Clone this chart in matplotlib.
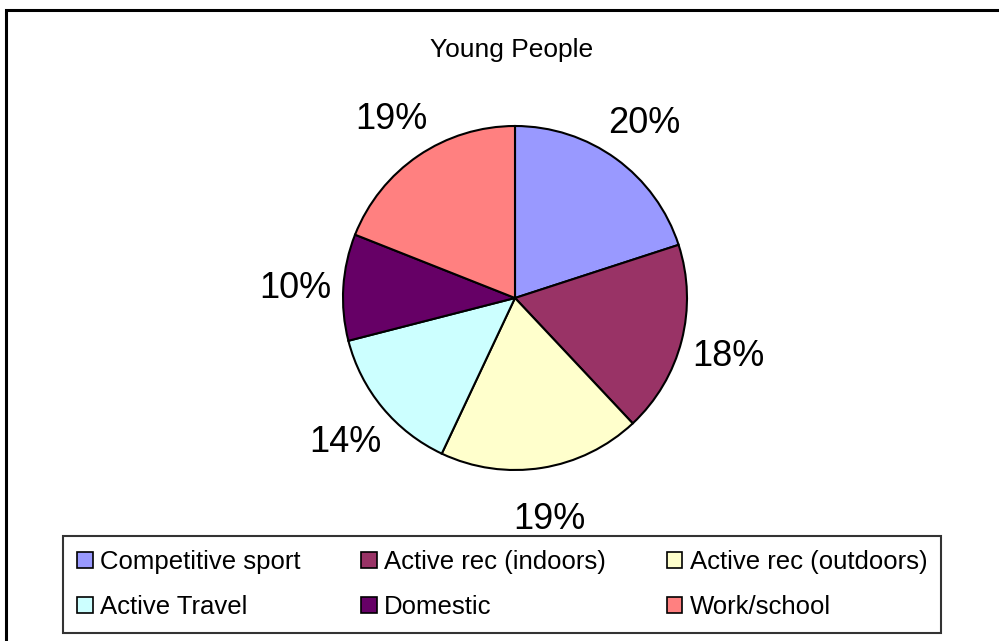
import matplotlib

matplotlib.use('Agg')
import matplotlib.pyplot as plt
from matplotlib.patches import Patch, Rectangle

plt.rcParams['font.family'] = ['Liberation Sans', 'DejaVu Sans']

title = "Young People"
categories = ["Competitive sport", "Active rec (indoors)", "Active rec (outdoors)",
              "Active Travel", "Domestic", "Work/school"]
shares = [20, 18, 19, 14, 10, 19]
colors = ["#9999FF", "#993366", "#FFFFCC", "#CCFFFF", "#660066", "#FF8080"]

W, H = 999, 641
fig = plt.figure(figsize=(W / 100, H / 100), dpi=100)

# outer chart border (right and bottom edges run off the image)
fig.patches.append(Rectangle((6 / W, -0.05), 1.1, 1 - 10 / H + 0.05,
                             transform=fig.transFigure, fill=False,
                             edgecolor='black', linewidth=2.2))

cx, cy, r = 515, 298, 172
ax = fig.add_axes([(cx - r) / W, (H - cy - r) / H, 2 * r / W, 2 * r / H])
wedges, texts, pcts = ax.pie(
    shares,
    colors=colors,
    startangle=90,
    counterclock=False,
    autopct='%1.0f%%',
    pctdistance=1.28,
    wedgeprops=dict(edgecolor='black', linewidth=1.5),
    textprops=dict(fontsize=26, color='black'),
)
for t in pcts:
    t.set_va('center_baseline')
ax.set_xlim(-1, 1)
ax.set_ylim(-1, 1)
ax.set_aspect('equal')

fig.text(512 / W, 1 - 50 / H, title, ha='center', va='center', fontsize=19)

# legend fills row by row in the reference; matplotlib fills by column
ncol = 3
order = [i + j * ncol for i in range(ncol) for j in range(len(categories) // ncol)]
handles = [Patch(facecolor=colors[i], edgecolor='black', linewidth=1.2) for i in order]
labels = [categories[i] for i in order]
leg = fig.legend(handles, labels, ncol=ncol, loc='lower left',
                 bbox_to_anchor=(63 / W, 8 / H),
                 fontsize=18.5, frameon=True, fancybox=False, edgecolor='black',
                 handlelength=0.6, handleheight=0.6, handletextpad=0.3,
                 columnspacing=2.35, labelspacing=0.8, borderaxespad=0,
                 borderpad=0.55)
leg.get_frame().set_linewidth(1.5)

plt.savefig('out.png', dpi=100)
plt.close(fig)
